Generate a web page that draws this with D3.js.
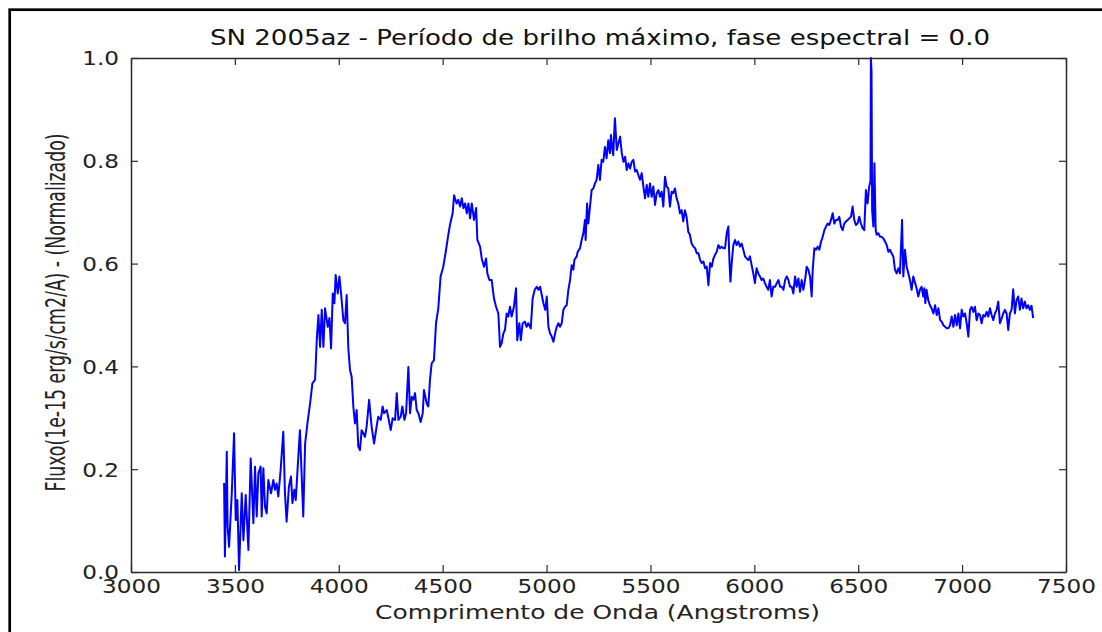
<!DOCTYPE html>
<html><head><meta charset="utf-8">
<script src="https://cdn.jsdelivr.net/npm/d3@7"></script>
<style>body{margin:0;background:#fff}svg{display:block}</style>
</head><body>
<svg id="c" width="1102" height="632"></svg>
<script>
const title = "SN 2005az - Período de brilho máximo, fase espectral = 0.0";
const xLabel = "Comprimento de Onda (Angstroms)";
const yLabel = "Fluxo(1e-15 erg/s/cm2/A) - (Normalizado)";
const xTicks = [3000, 3500, 4000, 4500, 5000, 5500, 6000, 6500, 7000, 7500];
const yTicks = [0.0, 0.2, 0.4, 0.6, 0.8, 1.0];

const wavelength = [
3448,3452,3461,3465,3472,3485,3496,3504,3512,3520,3533,3541,3552,3565,3576,3589,3597,3605,3613,3624,
3629,3637,3645,3653,3661,3674,3685,3693,3701,3709,3720,3733,3741,3749,3760,3770,3777,3786,3793,3802,
3813,3821,3829,3838,3850,3862,3873,3886,3894,3902,3910,3918,3926,3934,3947,3955,3963,3971,3979,3985,
3995,4003,4011,4022,4030,4038,4046,4054,4062,4070,4078,4086,4094,4102,4110,4118,4126,4134,4146,
4158,4170,4182,4190,4202,4211,4218,4231,4239,4250,4259,4271,4279,4287,4298,4306,4316,4324,4335,4343,
4351,4359,4367,4375,4383,4394,4404,4410,4423,4431,4439,4447,4458,4468,4479,4490,4503,4516,4527,4535,
4548,4555,4567,4575,4584,4592,4600,4608,4616,4624,4632,4640,4651,4661,4667,4680,4688,4699,4709,4715,
4725,4736,4747,4757,4768,4776,4784,4792,4800,4808,4816,4824,4832,4843,4853,4859,4869,4876,4885,4896,
4904,4912,4924,4933,4943,4953,4961,4969,4977,4985,4994,5001,5009,5017,5025,5033,5041,5049,5057,5065,
5073,5081,5089,5097,
5105,5113,5121,5129,5134,5145,5150,5161,5169,5177,5185,5188,5195,5201,5209,5217,5225,5233,5241,5249,
5257,5265,5273,5281,5289,5297,5305,5310,5317,5321,5329,5338,5346,5354,5362,5370,5378,5386,5394,5402,
5410,5418,5426,5434,5442,5450,5458,5466,5474,5482,5490,5498,5506,5514,5522,5530,5538,5546,5554,5562,
5570,5578,5586,5594,5602,5610,5618,5626,5634,5642,5650,5658,5666,5674,5682,5690,5698,5707,5715,5723,
5731,5739,5747,5755,5763,5771,5779,5787,5795,5803,5811,5819,5827,5835,5843,5851,5859,5867,5875,5880,
5885,5891,5899,5907,5915,5923,5931,5939,5947,5955,5963,5971,5979,5987,5995,6003,6011,6019,6027,6035,
6043,6051,6059,6067,6075,6083,6091,6100,6108,6116,6124,6132,6140,6148,6156,6164,6172,6180,6188,6196,
6204,6212,6220,6228,6236,6244,6252,6260,6268,6276,6281,6289,6297,6305,6313,6321,6329,6337,6345,6353,
6361,6369,6377,6385,6393,6401,6409,6417,6425,6433,6441,6449,6457,6465,6473,6481,6489,6497,6505,6513,
6521,6529,6537,6545,6553,6559,6561,6564,6567,6573,6578,6584,6589,6597,6605,6613,6621,6629,6637,6645,
6653,6661,6669,6677,6685,6693,6701,6711,6717,6725,6733,6741,6749,6757,6765,
6781,6789,6797,6805,6813,6818,6823,6829,6837,6845,6853,6862,6870,6878,6886,6894,6902,6910,6918,6926,
6934,6942,6950,6958,6966,6974,6982,6990,6998,7006,7014,7022,7030,7038,7046,7054,7062,7070,7078,7086,
7094,7102,7110,7118,7126,7134,7142,7150,7158,7166,7174,7182,7190,7198,7206,7214,7222,7230,7238,7246,
7254,7262,7270,7278,7286,7294,7302,7310,7318,7326,7334,7342
];

const flux = [
0.173,0.030,0.234,0.088,0.049,0.153,0.270,0.101,0.140,0.004,0.153,0.062,0.150,0.043,0.221,0.095,0.205,0.108,0.192,0.205,
0.108,0.202,0.127,0.114,0.179,0.153,0.179,0.160,0.172,0.147,0.198,0.273,0.153,0.098,0.166,0.186,0.134,0.160,0.140,0.202,
0.276,0.192,0.108,0.250,0.292,0.328,0.367,0.374,0.451,0.500,0.438,0.510,0.438,0.513,0.477,0.494,0.435,0.542,0.523,0.578,
0.542,0.575,0.542,0.490,0.484,0.539,0.435,0.393,0.380,0.322,0.289,0.315,0.244,0.237,0.276,0.270,0.263,0.283,0.335,
0.283,0.250,0.283,0.302,0.296,0.322,0.309,0.315,0.299,0.276,0.299,0.296,0.348,0.296,0.302,0.322,0.296,0.309,0.399,0.309,
0.341,0.335,0.348,0.315,0.309,0.292,0.309,0.354,0.328,0.322,0.374,0.406,0.412,0.484,0.513,0.575,0.594,0.626,0.656,0.675,
0.698,0.733,0.717,0.724,0.711,0.727,0.708,0.717,0.698,0.717,0.688,0.717,0.685,0.708,0.646,0.633,0.610,0.594,0.610,0.581,
0.568,0.568,0.532,0.516,0.503,0.438,0.445,0.464,0.471,0.503,0.497,0.516,0.497,0.516,0.552,0.451,0.484,0.451,0.484,0.487,
0.477,0.484,0.474,0.532,0.549,0.555,0.549,0.555,0.539,0.523,0.510,0.536,0.477,0.464,0.458,0.448,0.464,0.477,0.484,0.477,
0.484,0.510,0.516,0.519,
0.549,0.568,0.597,0.588,0.607,0.614,0.623,0.630,0.646,0.659,0.685,0.646,0.717,0.678,0.711,0.743,0.746,0.756,0.763,0.792,
0.763,0.802,0.798,0.827,0.805,0.840,0.815,0.850,0.821,0.811,0.883,0.821,0.834,0.847,0.815,0.798,0.808,0.782,0.795,0.785,
0.798,0.802,0.779,0.782,0.772,0.763,0.776,0.750,0.727,0.753,0.730,0.756,0.730,0.750,0.714,0.737,0.743,0.730,0.740,0.711,
0.769,0.750,0.746,0.711,0.740,0.737,0.746,0.727,0.717,0.698,0.704,0.682,0.704,0.691,0.662,0.656,0.639,0.633,0.630,0.620,
0.620,0.607,0.601,0.604,0.591,0.594,0.558,0.601,0.594,0.610,0.617,0.623,0.636,0.630,0.633,0.630,0.630,0.659,0.672,0.607,
0.565,0.601,0.636,0.646,0.636,0.643,0.633,0.639,0.627,0.614,0.610,0.607,0.614,0.597,0.581,0.562,0.591,0.581,0.575,0.568,
0.571,0.562,0.555,0.549,0.568,0.536,0.555,0.555,0.562,0.568,0.555,0.555,0.549,0.568,0.575,0.568,0.555,0.555,0.542,0.575,
0.555,0.571,0.545,0.568,0.549,0.568,0.594,0.588,0.575,0.536,0.588,0.630,0.627,0.633,0.627,0.643,0.652,0.665,0.672,0.678,
0.675,0.685,0.698,0.678,0.685,0.685,0.691,0.672,0.665,0.678,0.682,0.685,0.688,0.691,0.711,0.685,0.675,0.678,0.691,0.678,
0.669,0.665,0.743,0.717,0.750,0.760,1.000,0.975,0.704,0.672,0.795,0.665,0.656,0.659,0.652,0.652,0.649,0.643,0.636,0.623,
0.627,0.620,0.614,0.588,0.581,0.591,0.581,0.685,0.575,0.627,0.594,0.581,0.568,0.549,0.575,
0.552,0.536,0.549,0.555,0.536,0.552,0.523,0.549,0.529,0.519,0.513,0.503,0.519,0.500,0.513,0.490,0.487,0.480,0.477,0.474,
0.474,0.480,0.497,0.477,0.500,0.480,0.503,0.474,0.510,0.497,0.503,0.484,0.458,0.510,0.516,0.506,0.516,0.490,0.503,0.500,
0.484,0.500,0.497,0.506,0.497,0.513,0.500,0.490,0.503,0.510,0.526,0.484,0.493,0.503,0.510,0.503,0.471,0.503,0.510,0.550,
0.503,0.529,0.536,0.510,0.532,0.513,0.526,0.513,0.519,0.510,0.518,0.494
];

const svg = d3.select("#c");
const mLeft = 131, mRight = 1066, mTop = 58, mBottom = 572;
const xScale = d3.scaleLinear().domain([3000, 7500]).range([mLeft, mRight]);
const yScale = d3.scaleLinear().domain([0, 1]).range([mBottom, mTop]);
const axisColor = "#2a2a2a";
const stretch = 1.22;

// outer frame (left and top edges visible)
svg.append("rect").attr("x", 9.7).attr("y", 9.7).attr("width", 1200).attr("height", 1000)
  .attr("fill", "none").attr("stroke", "#000").attr("stroke-width", 2.7);

// data line
const n = Math.min(wavelength.length, flux.length);
const data = wavelength.slice(0, n).map((w, i) => [w, flux[i]]);
svg.append("path").datum(data)
  .attr("fill", "none").attr("stroke", "#0000ff").attr("stroke-width", 2)
  .attr("stroke-linejoin", "round")
  .attr("d", d3.line().x(d => xScale(d[0])).y(d => yScale(d[1])));

function styleAxis(g) {
  g.select(".domain").attr("stroke", axisColor).attr("stroke-width", 1.5);
  g.selectAll(".tick line").attr("stroke", axisColor).attr("stroke-width", 1.2);
}

// bottom axis
const gx = svg.append("g").attr("transform", `translate(0,${mBottom})`)
  .call(d3.axisBottom(xScale).tickValues(xTicks).tickFormat(d3.format("d")).tickSizeInner(-7).tickSizeOuter(0));
styleAxis(gx);
gx.selectAll(".tick text").attr("y", 21).attr("dy", null)
  .attr("font-family", "DejaVu Sans").attr("font-size", 19).attr("fill", "#222")
  .attr("transform", `scale(${stretch},1)`);

// left axis
const gy = svg.append("g").attr("transform", `translate(${mLeft},0)`)
  .call(d3.axisLeft(yScale).tickValues(yTicks).tickFormat(d3.format(".1f")).tickSizeInner(-7).tickSizeOuter(0));
styleAxis(gy);
gy.selectAll(".tick text").attr("x", -12 / stretch).attr("dy", "0.36em")
  .attr("font-family", "DejaVu Sans").attr("font-size", 19).attr("fill", "#222")
  .attr("transform", `scale(${stretch},1)`);

// top & right mirror axes
const gt = svg.append("g").attr("transform", `translate(0,${mTop})`)
  .call(d3.axisTop(xScale).tickValues(xTicks).tickFormat("").tickSizeInner(-7).tickSizeOuter(0));
styleAxis(gt);
const gr = svg.append("g").attr("transform", `translate(${mRight},0)`)
  .call(d3.axisRight(yScale).tickValues(yTicks).tickFormat("").tickSizeInner(-7).tickSizeOuter(0));
styleAxis(gr);

// title
svg.append("text").attr("x", 600).attr("y", 44.5).attr("text-anchor", "middle")
  .attr("font-family", "DejaVu Sans").attr("font-size", 20.5).attr("fill", "#111")
  .attr("textLength", 780).attr("lengthAdjust", "spacingAndGlyphs")
  .text(title);

// x label
svg.append("text").attr("x", 597.5).attr("y", 619).attr("text-anchor", "middle")
  .attr("font-family", "DejaVu Sans").attr("font-size", 20).attr("fill", "#222")
  .attr("textLength", 445).attr("lengthAdjust", "spacingAndGlyphs")
  .text(xLabel);

// y label
svg.append("text")
  .attr("transform", `translate(65,312.5) scale(${stretch},1) rotate(-90)`)
  .attr("text-anchor", "middle")
  .attr("font-family", "Liberation Sans Narrow, DejaVu Sans Condensed, Liberation Sans, sans-serif")
  .attr("font-size", 21.5).attr("fill", "#222")
  .attr("textLength", 358).attr("lengthAdjust", "spacingAndGlyphs")
  .text(yLabel);
</script>
</body></html>
